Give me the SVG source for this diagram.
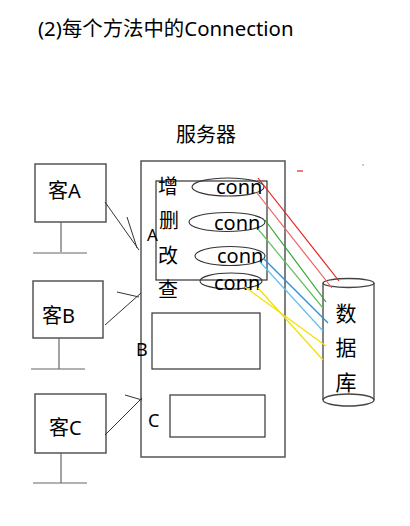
<svg xmlns="http://www.w3.org/2000/svg" width="410" height="526" viewBox="0 0 410 526">
<style>
text{font-family:"Noto Sans","Noto Sans CJK SC",sans-serif;fill:#000}
.box{fill:#fff;stroke:#555;stroke-width:1.5}
.thin{fill:none;stroke:#333;stroke-width:1.2}
.ln{fill:none;stroke:#666;stroke-width:1.2}
.ell{fill:none;stroke:#333;stroke-width:1.1}
.t20{font-size:20px}
.c{stroke-width:1.2}
</style>
<rect width="410" height="526" fill="#fff"/>
<text x="38" y="36" font-size="20.4">(2)每个方法中的Connection</text>

<g id="server">
<text x="206" y="142" class="t20" text-anchor="middle">服务器</text>
<rect class="box" x="141" y="161" width="144" height="296"/>
</g>

<g id="methods">
<rect class="thin" x="156" y="181" width="111" height="99"/>
<ellipse class="ell" cx="228" cy="187" rx="36" ry="9"/>
<ellipse class="ell" cx="227" cy="222" rx="38" ry="9.5"/>
<ellipse class="ell" cx="230" cy="256" rx="35" ry="9.5"/>
<ellipse class="ell" cx="231" cy="281" rx="31" ry="8"/>
<text x="158" y="194" class="t20">增</text>
<text x="159" y="228" class="t20">删</text>
<text x="158" y="263" class="t20">改</text>
<text x="158" y="297" class="t20">查</text>
<text x="216" y="194" class="t20">conn</text>
<text x="214" y="230" class="t20">conn</text>
<text x="217" y="263" class="t20">conn</text>
<text x="214" y="290" class="t20">conn</text>
<text x="147" y="241" font-size="17">A</text>
</g>

<g id="slotB">
<rect class="thin" x="152" y="313" width="108" height="56"/>
<text x="136" y="356" font-size="18">B</text>
</g>
<g id="slotC">
<rect class="thin" x="170" y="395" width="95" height="42"/>
<text x="148" y="427" font-size="18">C</text>
</g>

<g id="clientA">
<rect class="box" x="35" y="164" width="71" height="58"/>
<text x="48" y="198" class="t20">客A</text>
<line class="ln" x1="61" y1="222" x2="61" y2="252"/>
<line class="ln" x1="33" y1="253" x2="87" y2="253"/>
</g>
<g id="clientB">
<rect class="box" x="33" y="281" width="70" height="57"/>
<text x="42" y="323" class="t20">客B</text>
<line class="ln" x1="59" y1="338" x2="59" y2="369"/>
<line class="ln" x1="31" y1="369" x2="85" y2="369"/>
</g>
<g id="clientC">
<rect class="box" x="35" y="394" width="71" height="59"/>
<text x="49" y="435" class="t20">客C</text>
<line class="ln" x1="61" y1="453" x2="61" y2="483"/>
<line class="ln" x1="33" y1="483" x2="87" y2="483"/>
</g>

<g id="database">
<path d="M323,283 V400 M374,283 V400" fill="none" stroke="#444" stroke-width="1.3"/>
<ellipse cx="348.5" cy="283" rx="25.5" ry="4.5" fill="none" stroke="#444" stroke-width="1.3"/>
<ellipse cx="348.5" cy="400" rx="25.5" ry="6" fill="none" stroke="#444" stroke-width="1.3"/>
<text x="346" y="321" font-size="21" text-anchor="middle">数</text>
<text x="346" y="355" font-size="21" text-anchor="middle">据</text>
<text x="346" y="390" font-size="21" text-anchor="middle">库</text>
</g>

<g id="connectors">
<g stroke="#333" stroke-width="1" fill="none">
<path d="M105,202 L139,250 M127,217 L137,248"/>
<path d="M105,325 L141,293 M117,292 L139,297"/>
<path d="M105,435 L142,398 M125,395 L142,400"/>
</g>
<g class="c" fill="none">
<line x1="258" y1="178" x2="339" y2="281" stroke="#e82020"/>
<line x1="257" y1="193" x2="332" y2="288" stroke="#f06060"/>
<line x1="265" y1="220" x2="326" y2="302" stroke="#30a830"/>
<line x1="258" y1="229" x2="323" y2="308" stroke="#60c060"/>
<line x1="263" y1="258" x2="328" y2="323" stroke="#2090e0"/>
<line x1="260" y1="262" x2="323" y2="331" stroke="#60c0f0"/>
<line x1="245" y1="287" x2="326" y2="346" stroke="#f0e000"/>
<line x1="258" y1="288" x2="323" y2="360" stroke="#f0e000"/>
<line x1="297" y1="171" x2="303" y2="171" stroke="#e82020"/>
<line x1="362" y1="165" x2="364" y2="165" stroke="#60c060"/>
</g>
</g>
</svg>
